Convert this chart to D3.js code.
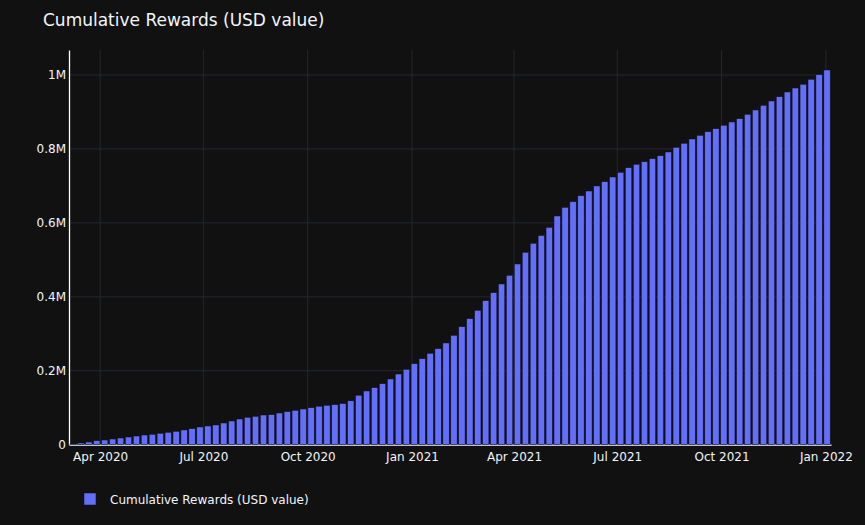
<!DOCTYPE html>
<html>
<head>
<meta charset="utf-8">
<script src="https://cdn.jsdelivr.net/npm/d3@7"></script>
<style>
  html, body { margin: 0; padding: 0; background: #111111; }
  svg { display: block; }
  text { font-family: "DejaVu Sans", Verdana, sans-serif; fill: #f2f5fa; }
</style>
</head>
<body>
<div class="chart"></div>
<script>
// ---- data (weekly, one bar per Sunday from 8 Mar 2020 to 2 Jan 2022)
var firstWeek = "2020-03-08",
    lastWeek = "2022-01-02";

// cumulative rewards in USD
var rewards = [
  2000, 4600, 7300, 10800, 12700, 15400, 18100, 20800, 23500, 26200,
  28100, 30800, 33500, 36200, 39800, 43300, 47900, 50600, 53300, 58700,
  64100, 69500, 74100, 76800, 80300, 81100, 85700, 89300, 93000, 96600,
  100100, 104100, 106600, 108200, 111400, 118700, 133900, 145300, 154200, 165000,
  177700, 191200, 204000, 219100, 232600, 247200, 259700, 275100, 295900, 319200,
  340800, 363500, 389500, 411100, 434700, 458200, 488800, 520400, 544800, 565900,
  588000, 618600, 642100, 657300, 673500, 686200, 699800, 711400, 724100, 736800,
  749300, 758500, 765500, 773600, 781700, 791700, 804400, 815300, 826900, 836900,
  846600, 854700, 864000, 872900, 881800, 893700, 905300, 918000, 929700, 941300,
  954000, 964800, 974900, 988400, 1000800, 1013500
];

var xTicks = ["2020-04-01", "2020-07-01", "2020-10-01", "2021-01-01",
              "2021-04-01", "2021-07-01", "2021-10-01", "2022-01-01"];
var xTickLabels = ["Apr 2020", "Jul 2020", "Oct 2020", "Jan 2021",
                   "Apr 2021", "Jul 2021", "Oct 2021", "Jan 2022"];
var yTicks = [0, 200000, 400000, 600000, 800000, 1000000];
var yTickLabels = ["0", "0.2M", "0.4M", "0.6M", "0.8M", "1M"];

var seriesName = "Cumulative Rewards (USD value)";

// ---- build rows
var parse = d3.utcParse("%Y-%m-%d");
var weeks = d3.utcWeek.range(parse(firstWeek), d3.utcDay.offset(parse(lastWeek), 1));
var rows = weeks.map(function(d, i) { return [d, rewards[i]]; });

// ---- layout
var W = 865, H = 525;
var plot = {left: 69, right: 831, top: 50, bottom: 444.7};

var svg = d3.select(".chart")
  .append("svg")
    .attr("width", W)
    .attr("height", H);

svg.append("rect")
  .attr("width", W).attr("height", H)
  .attr("fill", "#111111");

// ---- scales (half a week of padding on each side, like the bar autorange)
var halfWeek = 3.5 * 24 * 3600 * 1000;
var x = d3.scaleUtc()
  .domain([new Date(weeks[0].getTime() - halfWeek),
           new Date(weeks[weeks.length - 1].getTime() + halfWeek)])
  .range([plot.left, plot.right]);

var y = d3.scaleLinear()
  .domain([0, 1067600])
  .range([plot.bottom, plot.top]);

// ---- grid
var grid = svg.append("g").attr("class", "grid");
grid.selectAll(".gx")
  .data(xTicks)
  .enter().append("line")
    .attr("x1", function(d) { return x(parse(d)); })
    .attr("x2", function(d) { return x(parse(d)); })
    .attr("y1", plot.top)
    .attr("y2", plot.bottom)
    .attr("stroke", "#23272f")
    .attr("stroke-width", 1);
grid.selectAll(".gy")
  .data(yTicks.slice(1))
  .enter().append("line")
    .attr("x1", plot.left)
    .attr("x2", plot.right)
    .attr("y1", function(d) { return y(d); })
    .attr("y2", function(d) { return y(d); })
    .attr("stroke", "#23272f")
    .attr("stroke-width", 1);

// ---- X axis
var xAxis = svg.append("g")
  .attr("transform", "translate(0," + plot.bottom + ")")
  .call(d3.axisBottom(x)
    .tickValues(xTicks.map(parse))
    .tickSize(0)
    .tickPadding(8)
    .tickFormat(function(d, i) { return xTickLabels[i]; }));
xAxis.select(".domain").attr("stroke", "#ffffff").attr("stroke-width", 1.3);
xAxis.selectAll("text")
  .attr("fill", "#f2f5fa")
  .style("font-size", "12px")
  .style("font-family", "'DejaVu Sans', Verdana, sans-serif");

// ---- Y axis
var yAxis = svg.append("g")
  .attr("transform", "translate(" + plot.left + ",0)")
  .call(d3.axisLeft(y)
    .tickValues(yTicks)
    .tickSize(0)
    .tickPadding(3)
    .tickFormat(function(d, i) { return yTickLabels[i]; }));
yAxis.select(".domain").attr("stroke", "#ffffff").attr("stroke-width", 1.3);
yAxis.selectAll("text")
  .attr("fill", "#f2f5fa")
  .style("font-size", "12px")
  .style("font-family", "'DejaVu Sans', Verdana, sans-serif");

// ---- Bars
var barW = x(new Date(weeks[0].getTime() + 0.8 * 2 * halfWeek)) - x(weeks[0]);
svg.append("g").selectAll("rect")
  .data(rows)
  .enter()
    .append("rect")
    .attr("x", function(d) { return x(d[0]) - barW / 2; })
    .attr("y", function(d) { return y(d[1]); })
    .attr("width", barW)
    .attr("height", function(d) { return y(0) - y(d[1]); })
    .attr("fill", "#636efa")
    .attr("stroke", "#111111")
    .attr("stroke-width", 0.5);

// ---- Title
svg.append("text")
  .attr("x", 43)
  .attr("y", 25.5)
  .style("font-size", "17px")
  .text(seriesName);

// ---- Legend
var legend = svg.append("g").attr("transform", "translate(84,493)");
legend.append("rect")
  .attr("width", 12).attr("height", 12)
  .attr("fill", "#636efa")
  .attr("stroke", "#111111")
  .attr("stroke-width", 0.5);
legend.append("text")
  .attr("x", 26)
  .attr("y", 10.5)
  .style("font-size", "12px")
  .text(seriesName);
</script>
</body>
</html>
